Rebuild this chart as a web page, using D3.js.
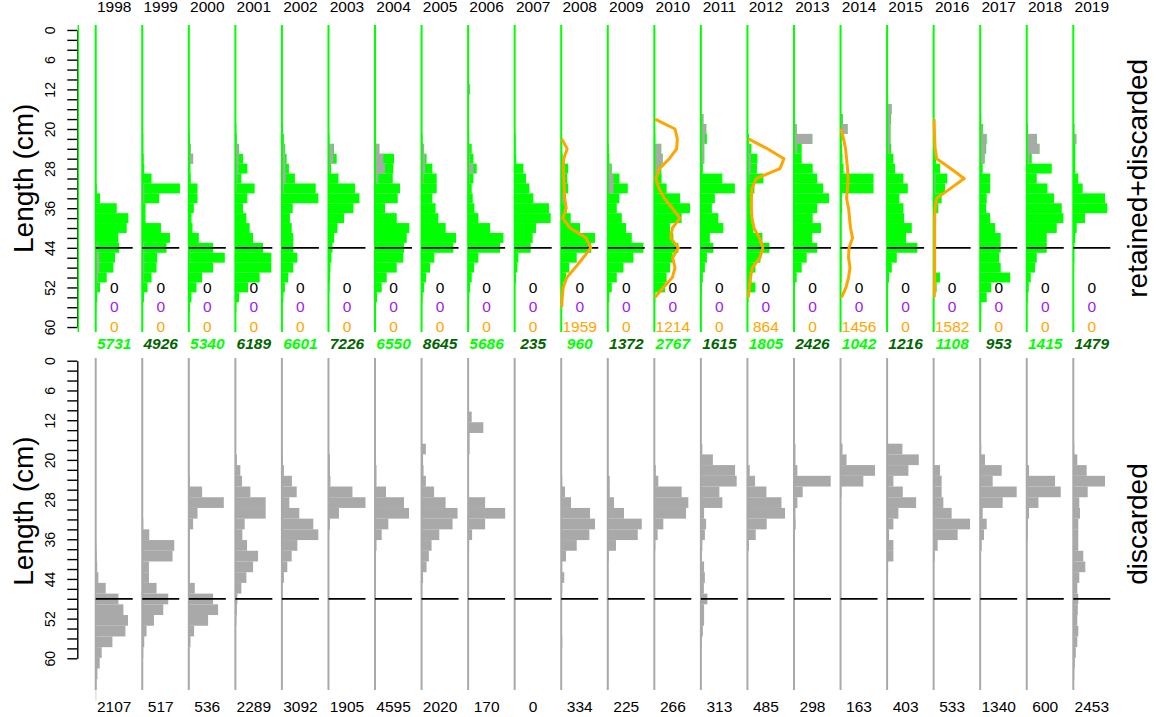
<!DOCTYPE html>
<html>
<head>
<meta charset="utf-8">
<script src="https://cdn.jsdelivr.net/npm/d3@7"></script>
<style>
  body { margin: 0; background: #fff; }
  text { font-family: "Liberation Sans", Arial, sans-serif; }
</style>
</head>
<body>
<script>
// years shown as columns
const years = [1998, 1999, 2000, 2001, 2002, 2003, 2004, 2005, 2006, 2007, 2008,
               2009, 2010, 2011, 2012, 2013, 2014, 2015, 2016, 2017, 2018, 2019];

// length frequencies [length class (cm), relative frequency], retained+discarded
const totalLF = [
  [[32,1],[34,4.3],[36,21],[38,32.7],[40,31],[42,22.7],[44,23.5],[46,19.3],[48,17.7],[50,11],[52,4.3],[54,1.5],[56,0.5]],
  [[22,1],[24,1],[26,1.5],[28,2],[30,9.3],[32,37.7],[34,17],[36,3.3],[38,3.3],[40,18.7],[42,27.7],[44,24.3],[46,15],[48,14.3],[50,9.3],[52,5.3],[54,1.7]],
  [[22,1],[24,2],[26,4.3],[28,1.7],[30,2],[32,8.7],[34,8.7],[36,5],[38,2.7],[40,3.7],[42,10],[44,24.3],[46,36],[48,24.3],[50,13.3],[52,7.7],[54,2.7],[56,1]],
  [[20,1],[22,1.5],[24,3.7],[26,7.7],[28,12],[30,6],[32,19.3],[34,12],[36,7.7],[38,11],[40,14.3],[42,17.7],[44,27.7],[46,36],[48,36],[50,24.3],[52,12.7],[54,3.7],[56,1]],
  [[20,1],[22,2],[24,3],[26,4.7],[28,7],[30,13],[32,33.8],[34,36.5],[36,10.8],[38,8],[40,9.8],[42,11.4],[44,11.4],[46,15.4],[48,11.4],[50,6.4],[52,3],[54,1.5]],
  [[22,1],[24,5.5],[26,8.2],[28,2.6],[30,10],[32,26.6],[34,31],[36,25],[38,15.6],[40,9],[42,5.6],[44,4],[46,3],[48,2],[50,1.5],[52,1]],
  [[22,1],[24,4.3],[26,19],[28,18.3],[30,17.7],[32,25],[34,22.7],[36,10],[38,21.7],[40,34.3],[42,31.7],[44,29],[46,28.3],[48,21.7],[50,11.7],[52,6.7],[54,2],[56,1]],
  [[22,1],[24,2.5],[26,5],[28,10.8],[30,15.1],[32,15.1],[34,10.8],[36,14],[38,16.8],[40,24.1],[42,34.5],[44,31.8],[46,12.8],[48,8.5],[50,4.5],[52,2.5],[54,1]],
  [[12,2],[22,1],[24,3.6],[26,5.3],[28,8.6],[30,5.3],[32,3.6],[34,4.6],[36,6.3],[38,10.3],[40,22],[42,35.3],[44,32],[46,10.3],[48,6],[50,3.6],[52,2],[54,1]],
  [[22,1],[24,1],[26,1.5],[28,8.7],[30,11.3],[32,14.7],[34,18.7],[36,34.3],[38,36],[40,21.3],[42,18],[44,16],[46,3.7],[48,2.7],[50,1.3]],
  [[22,0.5],[24,1],[26,1.5],[28,7],[30,6],[32,7],[34,3.8],[36,5.5],[38,9.5],[40,18.8],[42,33.8],[44,30],[46,15.5],[48,8],[50,4.8],[52,2],[54,1]],
  [[24,1],[26,1.5],[28,4],[30,11.7],[32,20],[34,11.7],[36,9],[38,14],[40,18.3],[42,24],[44,35.7],[46,25.7],[48,15.7],[50,9],[52,4],[54,1.5]],
  [[22,1],[24,7],[26,8.3],[28,7],[30,7.3],[32,12.3],[34,25.7],[36,35.7],[38,27.3],[40,15.7],[42,19],[44,24],[46,18.3],[48,15.7],[50,12.3],[52,10.7],[54,1]],
  [[18,2.5],[20,5.5],[22,6],[24,3.5],[26,3.5],[28,2],[30,21.5],[32,34],[34,14],[36,11],[38,17.5],[40,22.5],[42,9],[44,12.5],[46,6],[48,4],[50,2],[52,1]],
  [[22,1.5],[24,4],[26,10],[28,9.5],[30,16],[32,7],[34,4],[36,3],[38,4],[40,6],[42,15],[44,22],[46,13],[48,8],[50,4],[52,8],[54,1]],
  [[18,1],[20,2.7],[22,18.3],[24,7.7],[26,7.7],[28,18.7],[30,23.3],[32,29.3],[34,35],[36,23.3],[38,18.7],[40,27],[42,18.3],[44,23.3],[46,12.7],[48,7.7],[50,2.7],[52,1]],
  [[18,2.5],[20,7],[22,1.2],[24,1.5],[26,2],[28,3],[30,33],[32,33],[34,1.5],[36,1.5],[38,1],[40,1],[42,1],[44,1],[46,1],[48,1],[50,1]],
  [[14,1],[16,4.5],[18,4],[20,3.5],[22,3.5],[24,4],[26,6.3],[28,8],[30,16.3],[32,20.7],[34,12.3],[36,16.3],[38,17],[40,24.7],[42,19],[44,30.3],[46,9.7],[48,4.7],[50,2],[52,1]],
  [[22,1],[24,1],[26,2.4],[28,6.4],[30,13.7],[32,11.4],[34,8],[36,4.7],[38,1.5],[40,1.5],[42,1.5],[44,1.5],[46,1.5],[48,1.5],[50,6.4],[52,3]],
  [[18,1],[20,3],[22,6.5],[24,6],[26,4.5],[28,2.5],[30,10],[32,10],[34,6.5],[36,6],[38,10],[40,15],[42,20.5],[44,20.5],[46,19],[48,20.5],[50,30],[52,11],[54,6.5],[56,1]],
  [[20,1],[22,10],[24,12.7],[26,5],[28,25],[30,10],[32,20.7],[34,27.3],[36,35],[38,36.7],[40,30],[42,20],[44,20],[46,10],[48,8.3],[50,4],[52,2],[54,1]],
  [[20,1],[22,3],[24,2],[26,2],[28,2],[30,5],[32,9.4],[34,31.7],[36,34],[38,11.7],[40,3.4],[42,2],[44,1],[46,1]]
];

// discarded part, drawn over the retained+discarded bars
const discardTopLF = [
  [[44,2],[46,3.5],[48,3.5],[50,2.5],[52,1.5]],
  [[32,2],[34,2],[44,2],[46,2],[48,2],[50,1.5]],
  [[24,2],[26,4.3],[28,1],[44,1],[46,1.5],[48,1]],
  [[22,1],[24,3.3],[26,3.3],[28,3],[30,2],[32,1.5]],
  [[22,1],[24,2],[26,3],[28,3.5],[30,3.8],[32,2]],
  [[24,5],[26,5],[28,1.5]],
  [[22,1],[24,4.3],[26,8.3],[28,10],[30,3.3],[32,1]],
  [[24,2.5],[26,3.5],[28,3.5],[30,2]],
  [[12,2],[24,1.5],[26,2],[28,5.3],[30,1.5]],
  [],
  [[32,1],[34,2]],
  [[28,3],[30,5.7],[32,5.7],[34,1]],
  [[24,6.7],[26,8.3],[28,5.7],[30,1.5]],
  [[18,2.5],[20,5],[22,4],[24,3],[26,3]],
  [[24,2],[26,3.3],[28,3.3],[30,2]],
  [[18,1],[20,2.7],[22,18.3],[24,3.3]],
  [[18,2],[20,7]],
  [[14,1],[16,4.5],[18,3.5],[20,3],[22,3],[24,2.5]],
  [[30,2],[32,2]],
  [[20,2.5],[22,5.8],[24,5.5],[26,4]],
  [[20,1],[22,10],[24,12.7],[26,3]],
  [[20,1],[22,3]]
];

// second length composition (orange lines), only some years
const otherYears = [2008, 2010, 2012, 2014, 2016];
const otherLF = [
  [[22,0.5],[24,6],[26,2.5],[28,2],[30,2.5],[32,3],[34,3.5],[36,5],[38,1.5],[40,9],[42,25],[44,29.5],[46,22],[48,14],[50,5.5],[52,2],[54,1],[56,0.5]],
  [[18,0.7],[20,20.7],[22,23],[24,22.3],[26,15],[28,5],[30,1.7],[32,4.5],[34,10],[36,18],[38,25.7],[40,18],[42,16.3],[44,24],[46,18.3],[48,20.7],[50,18],[52,9],[54,0.7]],
  [[22,1],[24,20],[26,36.5],[28,32.5],[30,9],[32,4.5],[34,4],[36,4],[38,4.5],[40,6.5],[42,12],[44,15.5],[46,12.5],[48,5],[50,3],[52,2],[54,1]],
  [[20,0.5],[22,3],[24,5],[26,6],[28,7],[30,7.5],[32,7],[34,6],[36,8],[38,9],[40,10],[42,12],[44,8.5],[46,8],[48,9.5],[50,8],[52,5.5],[54,1]],
  [[18,0.5],[20,0.7],[22,1],[24,1.5],[26,3],[28,17],[30,30.5],[32,17],[34,3],[36,1.5],[38,1],[40,1],[42,1],[44,1],[46,1],[48,1],[50,1],[52,0.8],[54,0.7]]
];

// discarded length frequencies (lower panel)
const discardLF = [
  [[34,0.5],[36,1],[38,1.5],[40,2.7],[42,10],[44,22.7],[46,27.7],[48,32.3],[50,29.7],[52,16.7],[54,6],[56,4],[58,1.7],[60,0.7],[62,0.5]],
  [[30,1],[32,7],[34,32],[36,30.3],[38,6.7],[40,6.7],[42,14.3],[44,26],[46,21],[48,11.7],[50,4.3],[52,2],[54,1]],
  [[22,1],[24,13.3],[26,35],[28,8.7],[30,4.3],[32,1],[34,1],[36,1],[38,1],[40,1],[42,6],[44,24.3],[46,29.3],[48,19.3],[50,5.3],[52,1.7]],
  [[18,1.5],[20,5],[22,6.7],[24,15],[26,30.3],[28,30.3],[30,9.3],[32,7],[34,11.7],[36,22.7],[38,17.7],[40,11],[42,6],[44,2],[46,1.5],[48,1]],
  [[18,1],[20,2],[22,10],[24,14.8],[26,7.4],[28,17.4],[30,31.4],[32,36.4],[34,15.4],[36,9.8],[38,5.4],[40,2]],
  [[18,1.5],[20,1.5],[22,2],[24,24],[26,37],[28,10.5],[30,1.5]],
  [[18,1],[20,1.5],[22,1.5],[24,11],[26,29],[28,34],[30,13.3],[32,6.7],[34,1.5],[36,1],[38,1],[40,1]],
  [[16,4.3],[18,1.5],[20,2],[22,4.3],[24,12.5],[26,24],[28,36],[30,31],[32,17.7],[34,10],[36,7.3],[38,5],[40,1.5]],
  [[10,3.6],[12,15.2],[14,1.5],[16,1.5],[26,17],[28,37],[30,17],[32,4],[34,1]],
  [],
  [[22,1],[24,3.8],[26,9.8],[28,28.8],[30,33.8],[32,28.1],[34,15.5],[36,4.8],[38,1],[40,3],[42,1],[52,1]],
  [[22,2],[24,2],[26,6.2],[28,16.2],[30,34],[32,30],[34,8.2],[36,1]],
  [[20,1.5],[22,4],[24,27.3],[26,34],[28,31.7],[30,9],[32,3.3],[34,1]],
  [[16,1.5],[18,12],[20,34.2],[22,35.8],[24,18.5],[26,21.5],[28,3.2],[30,5.2],[32,4],[34,1.5],[36,1],[38,3.2],[40,4],[42,3],[44,6.5],[46,3.2],[48,3.2],[50,2],[52,1]],
  [[20,2.3],[22,7.6],[24,19],[26,34],[28,37.6],[30,19.3],[32,8.3],[34,1.5]],
  [[16,1.5],[18,1.5],[20,3.4],[22,36.7],[24,8.7],[26,3.4],[28,1.5],[30,1.7],[32,1],[34,1]],
  [[16,2],[18,6],[20,34.5],[22,22.8],[24,1]],
  [[16,15.3],[18,31.7],[20,21.3],[22,6.3],[24,15.7],[26,29],[28,11.3],[30,6.3],[32,2],[34,6.3],[36,6.3],[38,1],[40,0.7],[42,0.7],[44,0.7]],
  [[20,6.4],[22,8],[24,8],[26,9.7],[28,18],[30,36.4],[32,24],[34,4],[36,1]],
  [[16,1],[18,4.8],[20,21.5],[22,12.5],[24,36.5],[26,22.5],[28,2.5],[30,6.5],[32,3.8],[34,1.5]],
  [[20,2.3],[22,28.3],[24,34],[26,11.7],[28,2.3],[30,1],[32,1]],
  [[16,1],[18,4],[20,13.4],[22,31.7],[24,14.4],[26,6],[28,6.7],[30,5],[32,5],[34,5],[36,10],[38,12],[40,6],[42,4],[44,5],[46,4.5],[48,4],[50,5],[52,4],[54,2.5],[56,1.5],[58,1]]
];

// sample sizes printed under / beside the columns
const nBlack  = [0,0,0,0,0,0,0,0,0,0,0,0,0,0,0,0,0,0,0,0,0,0];
const nPurple = [0,0,0,0,0,0,0,0,0,0,0,0,0,0,0,0,0,0,0,0,0,0];
const nOrange = [0,0,0,0,0,0,0,0,0,0,1959,0,1214,0,864,0,1456,0,1582,0,0,0];
const nTotal  = [5731,4926,5340,6189,6601,7226,6550,8645,5686,235,960,1372,2767,1615,1805,2426,1042,1216,1108,953,1415,1479];
const nDiscard = [2107,517,536,2289,3092,1905,4595,2020,170,0,334,225,266,313,485,298,163,403,533,1340,600,2453];

const tickVals = [0,2,4,6,8,10,12,14,16,18,20,22,24,26,28,30,32,34,36,38,40,42,44,46,48,50,52,54,56,58,60];
const tickLabels = [0, 6, 12, 20, 28, 36, 44, 52, 60];
const mls = 44;

const W = 1156, H = 717;
const svg = d3.select("body").append("svg")
    .attr("width", W)
    .attr("height", H);

svg.append("rect").attr("width", W).attr("height", H).attr("fill", "#fff");

const colX = d3.scaleLinear().domain([1998, 2019]).range([95.7, 1073.3]);
const wx = d3.scaleLinear().domain([0, 40]).range([0, 40]);
const yTop = d3.scaleLinear().domain([-1, 61]).range([25, 332]);
const yBot = d3.scaleLinear().domain([-1, 61]).range([358, 690]);
const yTopAxis = d3.scaleLinear().domain([0, 60]).range([yTop(0), yTop(60)]);
const yBotAxis = d3.scaleLinear().domain([0, 60]).range([360.7, 658.3]);

const LIME = "#00ff00", DKGREEN = "#006400", GREY = "#a9a9a9";
const ORANGE = "#ffa500", PURPLE = "#a020f0";
const lineW = 37, textOff = 18.5;

function drawAxis(scale) {
  const g = svg.append("g")
      .attr("transform", "translate(77.3,0)")
      .call(d3.axisLeft(scale)
          .tickValues(tickVals)
          .tickSize(10)
          .tickSizeOuter(0)
          .tickFormat(d => tickLabels.includes(d) ? d : ""));
  g.select(".domain").attr("stroke", "#000").attr("stroke-width", 1.4);
  g.selectAll(".tick line").attr("stroke", "#000").attr("stroke-width", 1.4);
  g.selectAll(".tick text")
      .attr("x", 0).attr("dy", 0)
      .attr("transform", "translate(-22,0) rotate(-90)")
      .attr("text-anchor", "middle")
      .attr("fill", "#000")
      .style("font-size", "14px")
      .style("font-family", "Liberation Sans, Arial, sans-serif");
}

function bars(g, data, yScale, fill) {
  g.selectAll(null)
    .data(data)
    .enter().append("rect")
    .attr("x", 0)
    .attr("y", d => yScale(d[0] - 1))
    .attr("width", d => wx(d[1]))
    .attr("height", d => yScale(d[0] + 1) - yScale(d[0] - 1))
    .attr("fill", fill);
}

// ---- top panel: retained+discarded
drawAxis(yTopAxis);
svg.append("line")
    .attr("x1", 78.3).attr("x2", 78.3)
    .attr("y1", yTop(-1)).attr("y2", yTop(61))
    .attr("stroke", LIME).attr("stroke-width", 1.5);

years.forEach((yr, i) => {
  const g = svg.append("g").attr("transform", `translate(${colX(yr)},0)`);
  bars(g, totalLF[i], yTop, LIME);
  bars(g, discardTopLF[i], yTop, GREY);
  g.append("line")
      .attr("x1", 0).attr("x2", 0)
      .attr("y1", yTop(-1)).attr("y2", yTop(61))
      .attr("stroke", LIME).attr("stroke-width", 2);
  g.append("line")
      .attr("x1", 0).attr("x2", lineW)
      .attr("y1", yTop(mls)).attr("y2", yTop(mls))
      .attr("stroke", "#000").attr("stroke-width", 1.8);

  const oi = otherYears.indexOf(yr);
  if (oi >= 0) {
    g.append("path")
        .datum(otherLF[oi])
        .attr("fill", "none")
        .attr("stroke", ORANGE)
        .attr("stroke-width", 3)
        .attr("stroke-linejoin", "round")
        .attr("d", d3.line().x(d => wx(d[1])).y(d => yTop(d[0])));
  }

  g.append("text").attr("x", textOff).attr("y", 11.5)
      .attr("text-anchor", "middle").style("font-size", "15.5px").text(yr);
  g.append("text").attr("x", textOff).attr("y", 292.5)
      .attr("text-anchor", "middle").style("font-size", "15.5px").attr("fill", "#000").text(nBlack[i]);
  g.append("text").attr("x", textOff).attr("y", 312.2)
      .attr("text-anchor", "middle").style("font-size", "15.5px").attr("fill", PURPLE).text(nPurple[i]);
  g.append("text").attr("x", textOff).attr("y", 332)
      .attr("text-anchor", "middle").style("font-size", "15.5px").attr("fill", ORANGE).text(nOrange[i]);
  g.append("text").attr("x", textOff).attr("y", 349)
      .attr("text-anchor", "middle").style("font-size", "15.5px")
      .style("font-weight", "bold").style("font-style", "italic")
      .attr("fill", i % 2 === 0 ? LIME : DKGREEN).text(nTotal[i]);
});

// ---- bottom panel: discarded
drawAxis(yBotAxis);

years.forEach((yr, i) => {
  const g = svg.append("g").attr("transform", `translate(${colX(yr)},0)`);
  bars(g, discardLF[i], yBot, GREY);
  g.append("line")
      .attr("x1", 0).attr("x2", 0)
      .attr("y1", yBot(-1)).attr("y2", yBot(61))
      .attr("stroke", GREY).attr("stroke-width", 2);
  g.append("line")
      .attr("x1", 0).attr("x2", lineW)
      .attr("y1", yBot(mls)).attr("y2", yBot(mls))
      .attr("stroke", "#000").attr("stroke-width", 1.8);
  g.append("text").attr("x", textOff).attr("y", 711.5)
      .attr("text-anchor", "middle").style("font-size", "15.5px").text(nDiscard[i]);
});

// ---- axis titles
function vText(x, y, s) {
  svg.append("text")
      .attr("transform", `translate(${x},${y}) rotate(-90)`)
      .attr("text-anchor", "middle")
      .style("font-size", "28px")
      .text(s);
}
vText(33, 178.3, "Length (cm)");
vText(33, 511, "Length (cm)");
vText(1147, 178.3, "retained+discarded");
vText(1147, 524, "discarded");
</script>
</body>
</html>
